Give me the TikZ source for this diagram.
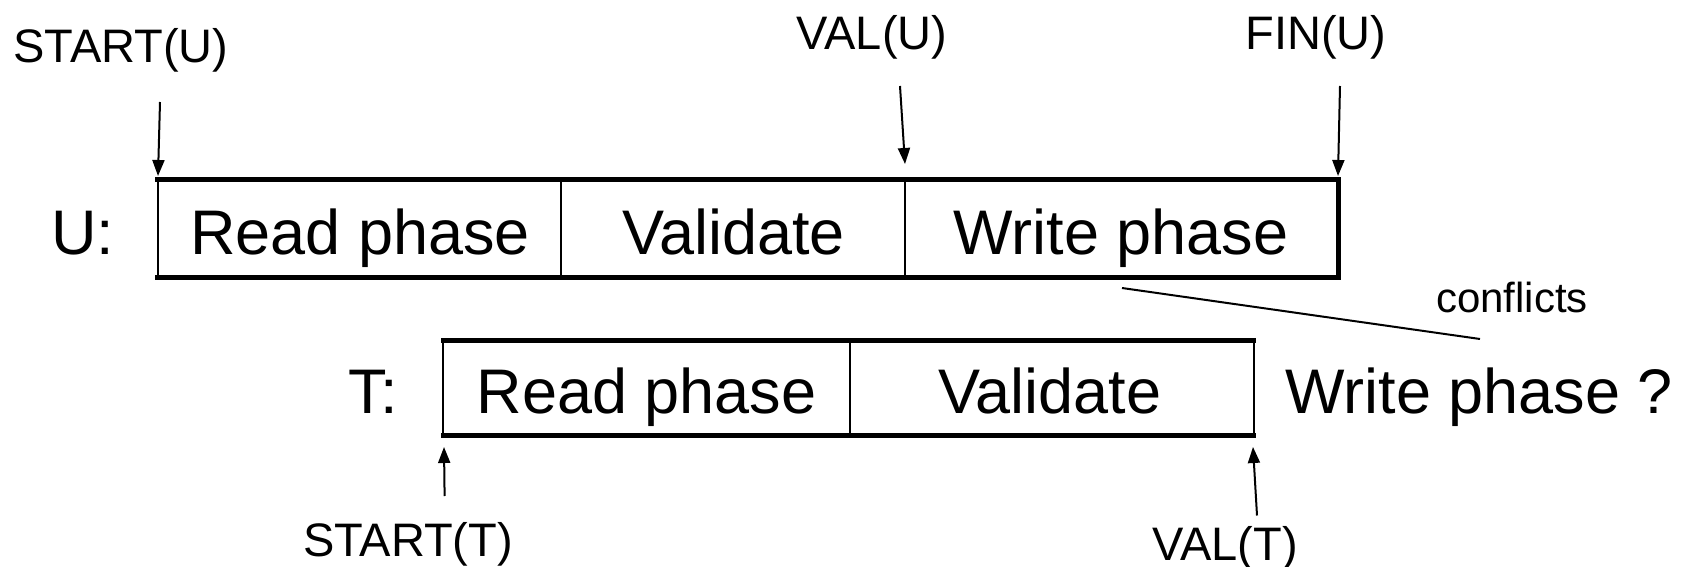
\documentclass[tikz,border=0pt]{standalone}
\usepackage{fontspec}
\setmainfont{Liberation Sans}
\usetikzlibrary{arrows.meta}
\begin{document}
\begin{tikzpicture}[x=1pt,y=-1pt,
  big/.style={font=\fontsize{63}{70}\selectfont, inner sep=0, anchor=base},
  lbl/.style={font=\fontsize{47}{52}\selectfont, inner sep=0, anchor=base},
  small/.style={font=\fontsize{42}{48}\selectfont, inner sep=0, anchor=base},
  cell/.style={draw=none, inner sep=0, minimum height=97pt},
  tcell/.style={draw=none, inner sep=0, minimum height=94.5pt},
  heavy/.style={line width=5pt, line cap=rect},
  light/.style={line width=2pt},
  arr/.style={line width=2pt, -{Triangle[length=16pt,width=12pt]}}]
\useasboundingbox (0,0) rectangle (1684,567);

% U row cells
\node[cell, minimum width=403pt] (u1) at (359.5,228.5) {};
\node[cell, minimum width=344pt] (u2) at (733,228.5) {};
\node[cell, minimum width=433pt] (u3) at (1121.5,228.5) {};
% T row cells
\node[tcell, minimum width=406pt] (t1) at (646.5,387.7) {};
\node[tcell, minimum width=404pt] (t2) at (1051.5,387.7) {};

% U box lines
\draw[heavy] (u1.north west) -- (u3.north east);
\draw[heavy] (u1.south west) -- (u3.south east);
\draw[heavy] (u3.north east) -- (u3.south east);
\draw[light] (u1.north west) -- (u1.south west);
\draw[light] (u1.north east) -- (u1.south east);
\draw[light] (u2.north east) -- (u2.south east);
% T box lines
\draw[heavy] (t1.north west) -- (t2.north east);
\draw[heavy] (t1.south west) -- (t2.south east);
\draw[light] (t1.north west) -- (t1.south west);
\draw[light] (t1.north east) -- (t1.south east);
\draw[light] (t2.north east) -- (t2.south east);

% texts U
\node[big] (ulab) at (83,254.5) {U:};
\node[big] (ur) at (360,254.5) {Read phase};
\node[big] (uv) at (733.5,254.5) {Validate};
\node[big] (uw) at (1121,254.5) {Write phase};
% texts T
\node[big] (tlab) at (373,413.5) {T:};
\node[big] (tr) at (646.5,413.5) {Read phase};
\node[big] (tv) at (1050,413.5) {Validate};
\node[big] (tw) at (1479,413.5) {Write phase ?};

% labels
\node[lbl] (startu) at (121,63) {START(U)};
\node[lbl] (valu) at (872,50) {VAL(U)};
\node[lbl] (finu) at (1316,50) {FIN(U)};
\node[lbl] (startt) at (408,556) {START(T)};
\node[lbl] (valt) at (1225,560) {VAL(T)};
\node[small] (confl) at (1512,312.5) {conflicts};

% arrow tails and tips
\coordinate (su0) at (160,102);
\coordinate (su1) at (158,176);
\coordinate (vu0) at (900,86);
\coordinate (vu1) at (905,164);
\coordinate (fu0) at (1340,86);
\coordinate (fu1) at (1338,176);
\coordinate (st0) at (444.6,496);
\coordinate (st1) at (444,447);
\coordinate (vt0) at (1257,515.5);
\coordinate (vt1) at (1253,447);
\coordinate (c0) at (1122,288);
\coordinate (c1) at (1480,339);

\draw[arr] (su0) -- (su1);
\draw[arr] (vu0) -- (vu1);
\draw[arr] (fu0) -- (fu1);
\draw[arr] (st0) -- (st1);
\draw[arr] (vt0) -- (vt1);
\draw[light] (c0) -- (c1);
\end{tikzpicture}
\end{document}
